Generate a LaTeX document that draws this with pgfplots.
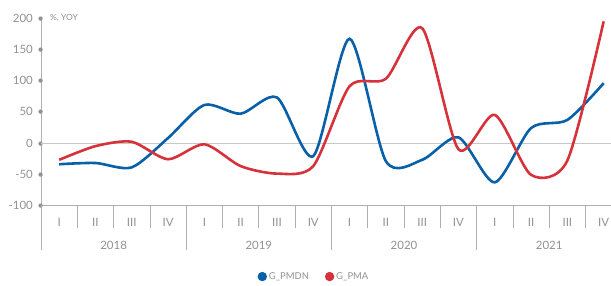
\documentclass[border=0pt]{standalone}
\usepackage{pgfplots}
\pgfplotsset{compat=1.18}
\usepackage{pgfplotstable}
\usepackage{fontspec}
\setmainfont{Lato}
\definecolor{cblue}{RGB}{8,96,168}
\definecolor{cred}{RGB}{214,50,60}
\definecolor{txt}{RGB}{145,145,145}
\definecolor{axl}{RGB}{175,175,175}
\definecolor{zl}{RGB}{200,200,200}
\pgfplotstableread{
q    blue  red
0.5  -34   -27
1.5  -32   -5
2.5  -39   2
3.5  8     -26
4.5  61    -2
5.5  47    -37
6.5  73    -49
7.5  -21   -37
8.5  167   91
9.5  -29   103
10.5 -27   184
11.5 9     -10
12.5 -63   45
13.5 24    -51
14.5 37    -28
15.5 96    195
}\data
\begin{document}
\begin{tikzpicture}
\begin{axis}[
  x=36.3bp, y=0.624bp,
  xmin=0, xmax=15.702, ymin=-100, ymax=200,
  clip=false,
  axis x line*=bottom, axis y line*=left,
  x axis line style={axl,-,line width=0.8bp},
  y axis line style={axl,-,line width=0.8bp},
  major tick length=0pt,
  xtick={0.5,1.5,...,15.5},
  xticklabels={I,II,III,IV,I,II,III,IV,I,II,III,IV,I,II,III,IV},
  xticklabel style={anchor=center, yshift=-17bp, font=\fontsize{11.5}{13}\selectfont, text=txt},
  ytick={-100,-50,...,200},
  /pgf/number format/assume math mode=true,
  yticklabel={\pgfmathprintnumber{\tick}\hspace{8bp}\makebox[0pt]{\textbullet}},
  yticklabel style={anchor=east, inner sep=0pt, font=\fontsize{11.5}{13}\selectfont, text=txt},
  legend style={at={(0.479,-0.38)}, anchor=center, draw=none, fill=none,
    legend columns=2, font=\fontsize{9.5}{11}\selectfont, text=txt,
    /tikz/every even column/.append style={column sep=14bp}},
  legend image code/.code={\fill (0bp,0bp) circle (3.3bp);},
]
\draw[zl, line width=0.9bp] (axis cs:0,0) -- (axis cs:15.702,0);
\pgfplotsinvokeforeach{1,2,3,5,6,7,9,10,11,13,14,15}{
  \draw[axl, line width=0.8bp] (axis cs:#1,-100) -- (axis cs:#1,-136.9);
}
\pgfplotsinvokeforeach{0,4,8,12}{
  \draw[axl, line width=0.8bp] (axis cs:#1,-100) -- (axis cs:#1,-171.5);
}
\node[text=txt, font=\fontsize{11.5}{13}\selectfont] at (axis cs:2,-163.5) {2018};
\node[text=txt, font=\fontsize{11.5}{13}\selectfont] at (axis cs:6,-163.5) {2019};
\node[text=txt, font=\fontsize{11.5}{13}\selectfont] at (axis cs:10,-163.5) {2020};
\node[text=txt, font=\fontsize{11.5}{13}\selectfont] at (axis cs:14,-163.5) {2021};
\node[text=txt, font=\fontsize{8.5}{10}\selectfont, anchor=west, inner sep=0pt] at ([xshift=9bp]axis cs:0,200) {\%, YOY};
\addplot[cblue, line width=2.6bp, smooth, tension=0.45] table[x=q,y=blue]{\data};
\addlegendentry{G\_PMDN}
\addplot[cred, line width=2.6bp, smooth, tension=0.45] table[x=q,y=red]{\data};
\addlegendentry{G\_PMA}
\coordinate (bl) at (axis cs:-1.1295,-227.6);
\coordinate (tr) at (axis cs:15.702,229.2);
\end{axis}
\pgfresetboundingbox
\path[use as bounding box] (bl) rectangle (tr);
\end{tikzpicture}
\end{document}
